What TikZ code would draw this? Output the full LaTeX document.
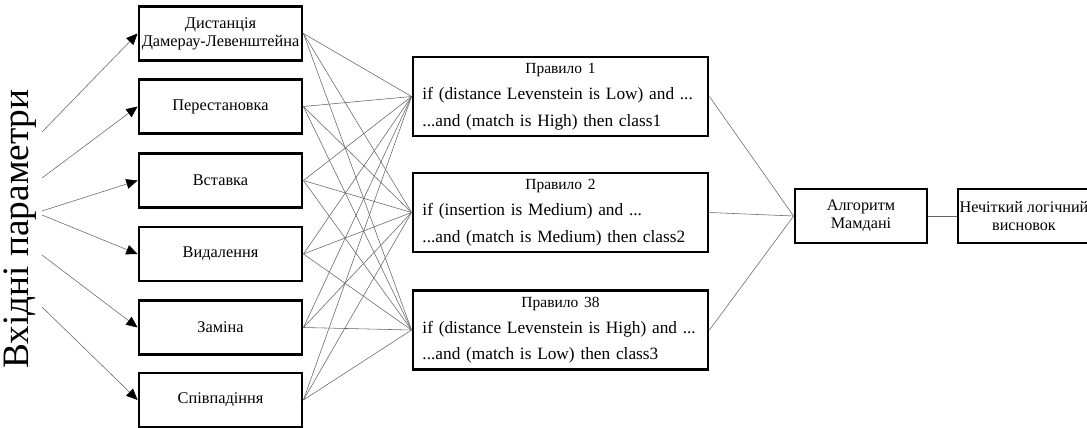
\documentclass[tikz,border=0pt]{standalone}
\usepackage{fontspec}
\setmainfont{Liberation Serif}
\usetikzlibrary{arrows.meta}
\begin{document}
\begin{tikzpicture}[x=0.025cm,y=-0.025cm,
	box/.style={draw=black,line width=2pt,inner sep=0pt,minimum width=4.075cm,minimum height=1.35cm,align=center,font=\fontsize{11.6}{13}\selectfont},
	rulebox/.style={draw=black,line width=2pt,inner sep=0pt,minimum width=7.375cm,minimum height=1.975cm,text width=6.9cm,align=left,font=\fontsize{12.3}{18.7}\selectfont},
	link/.style={black!60,line width=0.4pt},
	inarrow/.style={black!60,line width=0.4pt,-{Triangle[length=8pt,width=7pt,fill=black,color=black]}}]
	\useasboundingbox (0,0) rectangle (1087,428);
	% vertical caption
	\node[rotate=90,font=\fontsize{26.5}{30}\selectfont](inp) at (20,229){Вхідні параметри};
	\coordinate (s1) at (42,132);
	\coordinate (s2) at (42,178);
	\coordinate (s3) at (42,211);
	\coordinate (s4) at (42,215);
	\coordinate (s5) at (42,255);
	\coordinate (s6) at (42,307);
	% input parameters
	\node[box](p1) at (220.5,33.5){Дистанція\\Дамерау-Левенштейна};
	\node[box](p2) at (220.5,106.5){Перестановка};
	\node[box](p3) at (220.5,180.5){Вставка};
	\node[box](p4) at (220.5,254){Видалення};
	\node[box](p5) at (220.5,327.5){Заміна};
	\node[box](p6) at (220.5,400){Співпадіння};
	% rules
	\node[rulebox](r1) at (560.5,96.5){\makebox[\hsize]{\fontsize{11}{13}\selectfont Правило 1}\\if (distance Levenstein is Low) and ...\\...and (match is High) then class1};
	\node[rulebox](r2) at (560.5,212.5){\makebox[\hsize]{\fontsize{11}{13}\selectfont Правило 2}\\if (insertion is Medium) and ...\\...and (match is Medium) then class2};
	\node[rulebox](r3) at (560.5,330){\makebox[\hsize]{\fontsize{11}{13}\selectfont Правило 38}\\if (distance Levenstein is High) and ...\\...and (match is Low) then class3};
	% output
	\node[box,minimum width=3.3cm,font=\fontsize{11.5}{13}\selectfont](m) at (861,216){Алгоритм\\Мамдані};
	\node[box,minimum width=3.3cm,font=\fontsize{11.5}{13}\selectfont](o) at (1024,216){Нечіткий логічний\\висновок};
	\foreach \i in {1,...,6}
		\draw[inarrow](s\i)--(p\i.west);
	\foreach \i in {1,...,6}
		\foreach \j in {1,2,3}
			\draw[link](p\i.east)--(r\j.west);
	\foreach \j in {1,2,3}
		\draw[link](r\j.east)--(m.west);
	\draw[link](m)--(o);
\end{tikzpicture}
\end{document}
